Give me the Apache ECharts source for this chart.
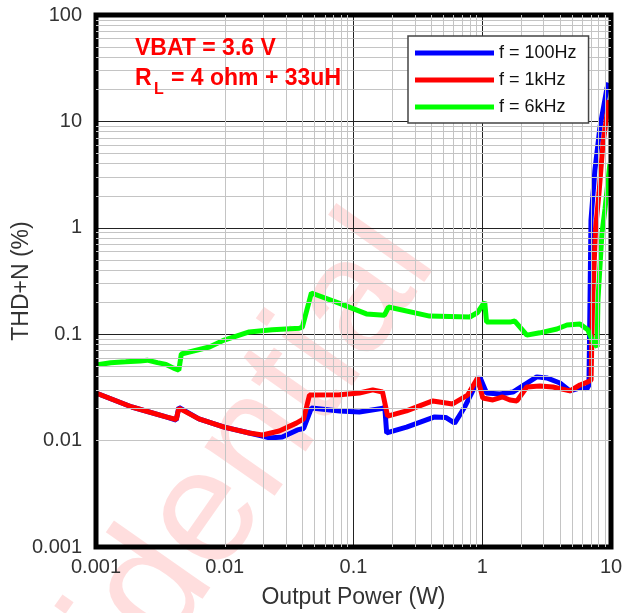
<!DOCTYPE html>
<html><head><meta charset="utf-8">
<script src="https://cdn.jsdelivr.net/npm/echarts@6/dist/echarts.min.js"></script>
<style>html,body{margin:0;padding:0;background:#fff}#c{width:624px;height:613px}</style>
</head><body><div id="c"></div>
<script>
// Tick labels
const xTickLabels = ['0.001', '0.01', '0.1', '1', '10'];
const yTickLabels = ['0.001', '0.01', '0.1', '1', '10', '100'];

// f = 100Hz
const power100Hz = [0.001,0.0019,0.0035,0.0042,0.0044,0.0063,0.0099,0.0155,0.0196,0.0222,0.028,0.0367,0.041,0.0471,0.078,0.111,0.165,0.175,0.181,0.258,0.427,0.52,0.611,0.731,0.957,1.08,1.37,1.73,2.65,3.17,4.01,4.80,6.06,6.5,6.74,6.87,6.99,7.5,8.21,9.31,9.6];
const thd100Hz   = [0.028,0.0207,0.0167,0.0156,0.0205,0.016,0.0134,0.0118,0.011,0.0106,0.0108,0.0126,0.013,0.0202,0.019,0.0186,0.02,0.0205,0.0118,0.0134,0.0167,0.0165,0.0146,0.0207,0.0397,0.028,0.0274,0.0286,0.0397,0.0388,0.0348,0.0293,0.0319,0.0306,0.0333,0.21,1.18,3.49,8.86,20.6,23];

// f = 1kHz
const power1kHz = [0.001,0.0019,0.0035,0.0042,0.0044,0.0063,0.0099,0.0155,0.0196,0.0265,0.036,0.041,0.0455,0.078,0.111,0.141,0.168,0.184,0.258,0.412,0.589,0.77,0.92,1.01,1.21,1.44,1.64,1.86,2.22,2.80,3.54,4.80,5.74,6.62,7.0,7.2,7.6,8.07,8.67,9.64];
const thd1kHz   = [0.028,0.0207,0.0167,0.0158,0.0202,0.016,0.0134,0.0118,0.0113,0.0123,0.0146,0.016,0.0268,0.027,0.028,0.03,0.0286,0.017,0.019,0.0236,0.0221,0.0268,0.0388,0.0251,0.0241,0.0257,0.0241,0.0236,0.0319,0.0326,0.0319,0.0293,0.0333,0.0356,0.037,0.21,1.0,2.12,6.26,15.9];

// f = 6kHz
const power6kHz = [0.001,0.0013,0.0017,0.0022,0.0025,0.003,0.0035,0.004,0.0044,0.0046,0.0076,0.0099,0.0155,0.0234,0.038,0.040,0.0471,0.078,0.126,0.174,0.187,0.39,0.80,0.92,1.045,1.08,1.64,1.79,2.22,2.80,3.80,4.55,5.74,6.6,7.24,7.8,7.92,8.51,8.98,9.82];
const thd6kHz   = [0.0514,0.054,0.055,0.056,0.057,0.054,0.052,0.048,0.046,0.0652,0.0758,0.088,0.105,0.110,0.114,0.116,0.244,0.195,0.155,0.151,0.180,0.148,0.145,0.160,0.201,0.130,0.130,0.133,0.098,0.103,0.112,0.122,0.125,0.11,0.0845,0.0758,0.21,0.893,1.5,4.06];

// minor grid positions (mantissas 2..9 within each decade)
const mantissas = [2,3,4,5,6,7,8,9];
const xDecades = [0.001, 0.01, 0.1, 1];
const yDecades = [0.001, 0.01, 0.1, 1, 10];

const zip = (a, b) => a.map((v, i) => [v, b[i]]);
const FONT = '"Liberation Sans", Arial, sans-serif';

const minorLines = [];
xDecades.forEach(d => mantissas.forEach(m => minorLines.push({ xAxis: +(m * d).toPrecision(3) })));
yDecades.forEach(d => mantissas.forEach(m => minorLines.push({ yAxis: +(m * d).toPrecision(3) })));

const chart = echarts.init(document.getElementById('c'), null, { renderer: 'canvas' });
chart.setOption({
  animation: false,
  backgroundColor: '#fff',
  grid: { left: 96, top: 15, width: 515, height: 532, containLabel: false, outerBoundsMode: 'none',
    show: true, borderColor: '#000', borderWidth: 5, backgroundColor: 'transparent', z: 5 },
  xAxis: {
    type: 'log', logBase: 10, min: 0.001, max: 10,
    name: 'Output Power (W)', nameLocation: 'middle', nameGap: 39, nameMoveOverlap: false,
    nameTextStyle: { fontFamily: FONT, fontSize: 23, color: '#333' },
    axisLine: { show: false }, axisTick: { show: false },
    axisLabel: { fontFamily: FONT, fontSize: 20, color: '#333', margin: 10,
      formatter: v => xTickLabels[Math.round(Math.log10(v)) + 3] },
    splitLine: { show: true, lineStyle: { color: '#222', width: 1 } }
  },
  yAxis: {
    type: 'log', logBase: 10, min: 0.001, max: 100,
    name: 'THD+N (%)', nameLocation: 'middle', nameGap: 63, nameMoveOverlap: false,
    nameTextStyle: { fontFamily: FONT, fontSize: 23, color: '#333' },
    axisLine: { show: false }, axisTick: { show: false },
    axisLabel: { fontFamily: FONT, fontSize: 20, color: '#333', margin: 14,
      formatter: v => yTickLabels[Math.round(Math.log10(v)) + 3] },
    splitLine: { show: true, lineStyle: { color: '#222', width: 1 } }
  },
  legend: {
    orient: 'vertical', left: 408, top: 36, z: 20,
    data: ['f = 100Hz', 'f = 1kHz', 'f = 6kHz'],
    icon: 'rect', itemWidth: 79, itemHeight: 5, itemGap: 7,
    padding: [7, 12, 6, 7],
    backgroundColor: '#ffffff', borderColor: '#444', borderWidth: 1.5, borderRadius: 0,
    textStyle: { fontFamily: FONT, fontSize: 18, color: '#111', lineHeight: 20 }
  },
  graphic: [
    { type: 'text', z: -1, x: 402, y: 236, rotation: 55 * Math.PI / 180,
      style: { text: 'Confidential', font: 'normal 162px ' + FONT, fill: 'rgba(255,0,0,0.13)', align: 'right', verticalAlign: 'middle' } },
    { type: 'text', z: 10, x: 135, y: 37, style: { text: 'VBAT = 3.6 V', font: 'bold 23px ' + FONT, fill: '#ff0000', align: 'left', verticalAlign: 'top' } },
    { type: 'text', z: 10, x: 135, y: 67, style: { text: 'R', font: 'bold 23px ' + FONT, fill: '#ff0000', align: 'left', verticalAlign: 'top' } },
    { type: 'text', z: 10, x: 154, y: 82, style: { text: 'L', font: 'bold 16px ' + FONT, fill: '#ff0000', align: 'left', verticalAlign: 'top' } },
    { type: 'text', z: 10, x: 171, y: 67, style: { text: '= 4 ohm + 33uH', font: 'bold 23px ' + FONT, fill: '#ff0000', align: 'left', verticalAlign: 'top' } }
  ],
  series: [
    { name: 'minor-grid', type: 'line', data: [], z: 1, silent: true,
      markLine: { silent: true, symbol: 'none', label: { show: false }, animation: false,
        lineStyle: { color: '#c4c4c4', width: 1, type: 'solid' }, data: minorLines } },
    { name: 'f = 100Hz', type: 'line', z: 3, data: zip(power100Hz, thd100Hz), showSymbol: false, symbol: 'none',
      lineStyle: { color: '#0000ff', width: 5 }, itemStyle: { color: '#0000ff' } },
    { name: 'f = 1kHz', type: 'line', z: 4, data: zip(power1kHz, thd1kHz), showSymbol: false, symbol: 'none',
      lineStyle: { color: '#ff0000', width: 5 }, itemStyle: { color: '#ff0000' } },
    { name: 'f = 6kHz', type: 'line', z: 4, data: zip(power6kHz, thd6kHz), showSymbol: false, symbol: 'none',
      lineStyle: { color: '#00ff00', width: 5 }, itemStyle: { color: '#00ff00' } }
  ]
});
</script>
</body></html>
